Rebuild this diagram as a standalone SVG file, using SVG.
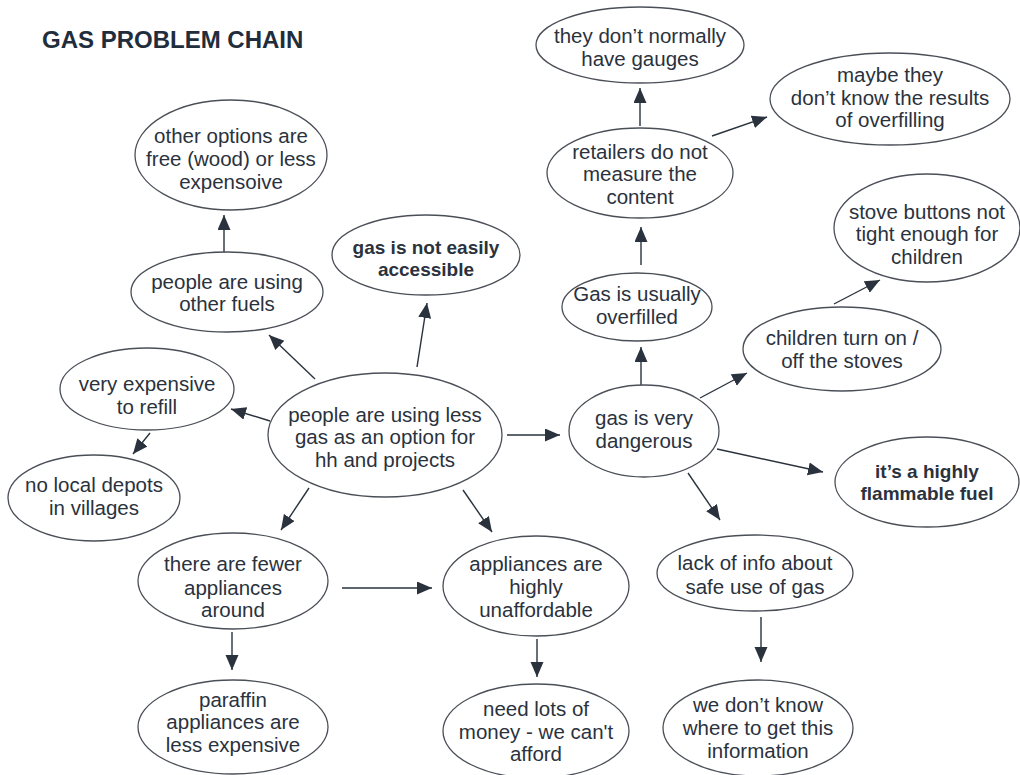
<svg xmlns="http://www.w3.org/2000/svg" width="1020" height="775" viewBox="0 0 1020 775">
<defs>
<style>
.n ellipse{fill:#ffffff;stroke:#4a4f57;stroke-width:1.3}
.n text{font-family:"Liberation Sans",Arial,sans-serif;font-size:20.5px;fill:#2a323d;text-anchor:middle}
.n text.b{font-weight:bold;font-size:19px}
.c line{stroke:#2a323d;stroke-width:1.4;marker-end:url(#ah)}
.title{font-family:"Liberation Sans",Arial,sans-serif;font-weight:bold;font-size:24px;fill:#1f2d3d}
</style>
<marker id="ah" markerUnits="userSpaceOnUse" markerWidth="16" markerHeight="14" refX="15" refY="6.5" orient="auto">
<path d="M0,0 L15,6.5 L0,13 z" fill="#2a323d"/>
</marker>
</defs>
<rect width="1020" height="775" fill="#ffffff"/>
<text class="title" x="42" y="48">GAS PROBLEM CHAIN</text>

<g class="c">
<line x1="224" y1="255" x2="224" y2="215"/>
<line x1="315" y1="379" x2="269" y2="335"/>
<line x1="417" y1="367" x2="427" y2="303"/>
<line x1="270" y1="421" x2="231" y2="409"/>
<line x1="150" y1="433" x2="133" y2="454"/>
<line x1="309" y1="488" x2="281" y2="530"/>
<line x1="463" y1="490" x2="492" y2="532"/>
<line x1="342" y1="588" x2="432" y2="588"/>
<line x1="232" y1="632" x2="232" y2="670"/>
<line x1="537" y1="639" x2="537" y2="677"/>
<line x1="507" y1="435" x2="560" y2="435"/>
<line x1="717" y1="449" x2="823" y2="472"/>
<line x1="688" y1="473" x2="720" y2="520"/>
<line x1="761" y1="617" x2="761" y2="662"/>
<line x1="641" y1="387" x2="641" y2="347"/>
<line x1="641" y1="265" x2="641" y2="227"/>
<line x1="640" y1="126" x2="640" y2="88"/>
<line x1="712" y1="136" x2="767" y2="117"/>
<line x1="700" y1="398" x2="747" y2="373"/>
<line x1="834" y1="304" x2="880" y2="280"/>
</g>

<g class="n" id="n-other-options">
<ellipse cx="231" cy="155" rx="96" ry="55"/>
<text x="231" y="143">other options are</text>
<text x="231" y="166">free (wood) or less</text>
<text x="231" y="189">expensoive</text>
</g>
<g class="n" id="n-not-accessible">
<ellipse cx="426" cy="255" rx="94" ry="40"/>
<text class="b" x="426" y="254">gas is not easily</text>
<text class="b" x="426" y="276">accessible</text>
</g>
<g class="n" id="n-other-fuels">
<ellipse cx="227" cy="292" rx="96" ry="40"/>
<text x="227" y="289">people are using</text>
<text x="227" y="311">other fuels</text>
</g>
<g class="n" id="n-expensive-refill">
<ellipse cx="147" cy="389" rx="87" ry="41"/>
<text x="147" y="391">very expensive</text>
<text x="147" y="414">to refill</text>
</g>
<g class="n" id="n-no-depots">
<ellipse cx="94" cy="498" rx="86" ry="43"/>
<text x="94" y="492">no local depots</text>
<text x="94" y="515">in villages</text>
</g>
<g class="n" id="n-center">
<ellipse cx="385" cy="435" rx="117" ry="62"/>
<text x="385" y="422">people are using less</text>
<text x="385" y="444">gas as an option for</text>
<text x="385" y="467">hh and projects</text>
</g>
<g class="n" id="n-fewer">
<ellipse cx="233" cy="581" rx="95" ry="48"/>
<text x="233" y="571">there are fewer</text>
<text x="233" y="595">appliances</text>
<text x="233" y="617">around</text>
</g>
<g class="n" id="n-paraffin">
<ellipse cx="233" cy="727" rx="95" ry="47"/>
<text x="233" y="707">paraffin</text>
<text x="233" y="729">appliances are</text>
<text x="233" y="752">less expensive</text>
</g>
<g class="n" id="n-unaffordable">
<ellipse cx="536" cy="586" rx="93" ry="50"/>
<text x="536" y="571">appliances are</text>
<text x="536" y="594">highly</text>
<text x="536" y="617">unaffordable</text>
</g>
<g class="n" id="n-money">
<ellipse cx="536" cy="731" rx="93" ry="47"/>
<text x="536" y="716">need lots of</text>
<text x="536" y="739">money - we can't</text>
<text x="536" y="761">afford</text>
</g>
<g class="n" id="n-dangerous">
<ellipse cx="644" cy="431" rx="75" ry="46"/>
<text x="644" y="425">gas is very</text>
<text x="644" y="448">dangerous</text>
</g>
<g class="n" id="n-flammable">
<ellipse cx="927" cy="482" rx="92" ry="45"/>
<text class="b" x="927" y="478">it’s a highly</text>
<text class="b" x="927" y="500">flammable fuel</text>
</g>
<g class="n" id="n-lack-info">
<ellipse cx="755" cy="573" rx="98" ry="38"/>
<text x="755" y="570">lack of info about</text>
<text x="755" y="594">safe use of gas</text>
</g>
<g class="n" id="n-where-info">
<ellipse cx="758" cy="728" rx="95" ry="48"/>
<text x="758" y="712">we don’t know</text>
<text x="758" y="735">where to get this</text>
<text x="758" y="758">information</text>
</g>
<g class="n" id="n-overfilled">
<ellipse cx="637" cy="307" rx="75" ry="34"/>
<text x="637" y="301">Gas is usually</text>
<text x="637" y="324">overfilled</text>
</g>
<g class="n" id="n-retailers">
<ellipse cx="640" cy="173" rx="93" ry="45"/>
<text x="640" y="159">retailers do not</text>
<text x="640" y="181">measure the</text>
<text x="640" y="204">content</text>
</g>
<g class="n" id="n-gauges">
<ellipse cx="640" cy="45" rx="104" ry="38"/>
<text x="640" y="43">they don’t normally</text>
<text x="640" y="66">have gauges</text>
</g>
<g class="n" id="n-maybe">
<ellipse cx="890" cy="99" rx="120" ry="46"/>
<text x="890" y="82">maybe they</text>
<text x="890" y="105">don’t know the results</text>
<text x="890" y="127">of overfilling</text>
</g>
<g class="n" id="n-stove-buttons">
<ellipse cx="927" cy="228" rx="93" ry="54"/>
<text x="927" y="219">stove buttons not</text>
<text x="927" y="241">tight enough for</text>
<text x="927" y="264">children</text>
</g>
<g class="n" id="n-children-turn">
<ellipse cx="842" cy="349" rx="99" ry="42"/>
<text x="842" y="345">children turn on /</text>
<text x="842" y="368">off the stoves</text>
</g>
</svg>
